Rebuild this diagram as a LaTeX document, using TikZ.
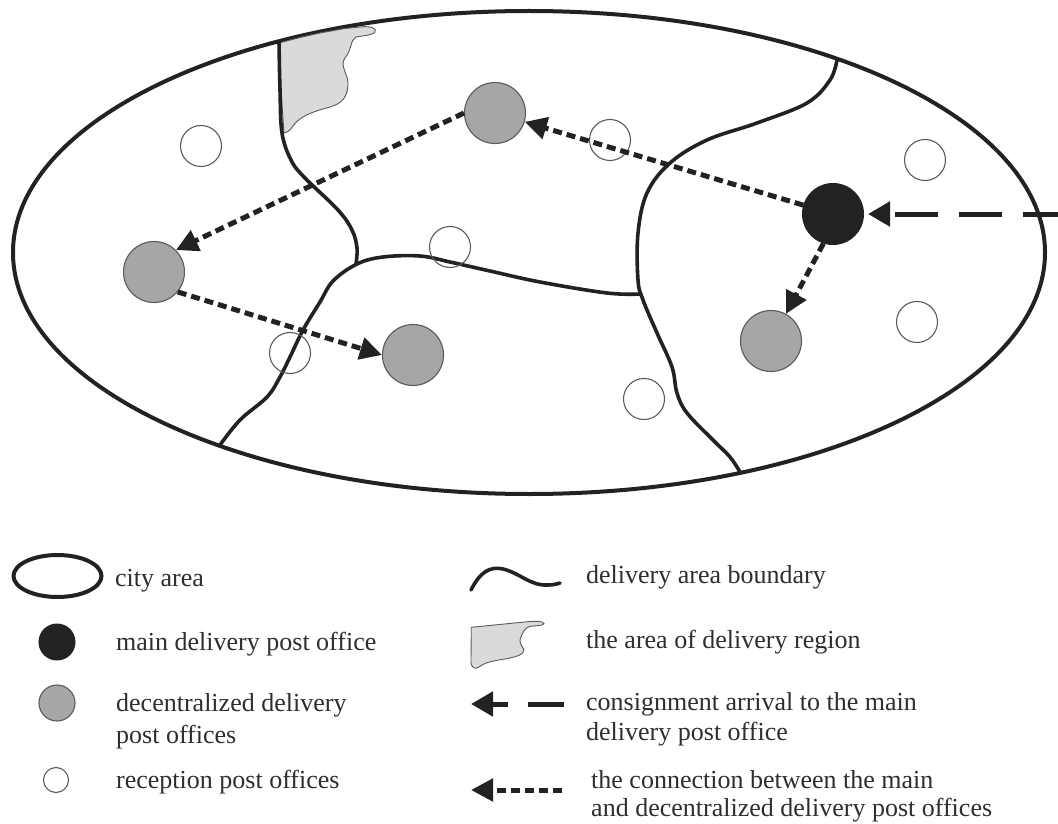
\documentclass[tikz,border=0pt]{standalone}
\usepackage{fontspec}
\setmainfont{Liberation Serif}
\usetikzlibrary{arrows.meta,shapes.geometric}
\definecolor{ink}{HTML}{222222}
\definecolor{txt}{HTML}{2E2E2E}
\definecolor{gfill}{HTML}{A6A6A6}
\definecolor{gline}{HTML}{5A5A5A}
\definecolor{rfill}{HTML}{DADADA}
\begin{document}
\begin{tikzpicture}[x=1pt,y=-1pt,
  cityarea/.style={ellipse, draw=ink, line width=4pt, inner sep=0pt},
  bound/.style={draw=ink, line width=3.6pt, line cap=round, line join=round},
  regionfill/.style={fill=rfill, draw=gline, line width=0.9pt},
  mainpo/.style={circle, fill=ink, draw=ink, line width=1pt, inner sep=0pt},
  decpo/.style={circle, fill=gfill, draw=gline, line width=1.1pt, inner sep=0pt},
  recpo/.style={circle, draw=gline, line width=1.1pt, inner sep=0pt},
  conn/.style={draw=ink, line width=5pt, dash pattern=on 9pt off 5pt, -{Triangle[length=22pt,width=22pt]}},
  arrival/.style={draw=ink, line width=5pt, dash pattern=on 43pt off 21pt, -{Triangle[length=22pt,width=24pt]}},
  lbl/.style={anchor=base west, inner sep=0pt, text=txt, font=\fontsize{26}{31}\selectfont}
]
\useasboundingbox (0,0) rectangle (1058,824);

% city area
\node[cityarea, minimum width=1032pt, minimum height=483pt] (city) at (529,252.5) {};

% area of delivery region (grey patch)
\path[regionfill] (279,43) -- (300,37.5) -- (320,33) -- (345,28.5) -- (360,27)
  .. controls (372,25.5) and (377,29) .. (375,32)
  .. controls (373,35) and (362,36) .. (356,37)
  .. controls (350,40) and (352,50) .. (345,58)
  .. controls (339,66) and (349,75) .. (348,85)
  .. controls (347,97) and (343,103) .. (330,107)
  .. controls (312,112) and (300,116) .. (293,126)
  .. controls (290,131) and (286,133) .. (284,133)
  -- (281,90) -- cycle;

% delivery area boundaries
\draw[bound] plot[smooth, tension=0.6] coordinates {(279,42) (280,90) (282,133) (291,160) (304,177) (338,210) (352,230) (357,248) (356,264)};
\draw[bound] plot[smooth, tension=0.6] coordinates {(220,445) (240,420) (267,397) (280,377) (290,357) (303,330) (320,302) (333,281) (357,264) (383,257) (420,256) (450,262) (490,271) (540,282) (607,293) (641,294)};
\draw[bound] plot[smooth, tension=0.6] coordinates {(837,60) (830,80) (807,103) (757,123) (707,140) (670,163) (647,193) (638,233) (638,280) (643,300) (657,333) (672,367) (677,393) (687,413) (713,440) (730,457) (740,472)};

% reception post offices
\node[recpo, minimum size=41pt] (r1) at (201,146) {};
\node[recpo, minimum size=41pt] (r2) at (610,140) {};
\node[recpo, minimum size=41pt] (r3) at (925,160) {};
\node[recpo, minimum size=41pt] (r4) at (450,247) {};
\node[recpo, minimum size=41pt] (r5) at (290,353) {};
\node[recpo, minimum size=41pt] (r6) at (644,399) {};
\node[recpo, minimum size=41pt] (r7) at (917,322) {};

% decentralized delivery post offices
\node[decpo, minimum size=61pt] (g1) at (495,113) {};
\node[decpo, minimum size=61pt] (g2) at (154,272) {};
\node[decpo, minimum size=61pt] (g3) at (413,355) {};
\node[decpo, minimum size=61pt] (g4) at (771,341) {};

% main delivery post office
\node[mainpo, minimum size=61pt] (main) at (833,214) {};

% connections
\coordinate (inflow) at (1058,214);
\draw[arrival, dash phase=8pt, shorten >=4pt] (inflow) -- (main.east);
\draw[conn] (main) -- (g1);
\draw[conn] (g1.west) -- (g2.45);
\draw[conn] (g2.-40) -- (g3.west);
\draw[conn] (main.252) -- (g4.61);

% ---------------- legend ----------------
\node[cityarea, minimum width=88pt, minimum height=42pt] (lcity) at (57.5,576) {};
\node[lbl] (tcity) at (115,586.7) {city area};

\node[mainpo, minimum size=36pt] (lmain) at (57,642) {};
\node[lbl] (tmain) at (116,650) {main delivery post office};

\node[decpo, minimum size=36pt] (ldec) at (57,703) {};
\node[lbl] (tdec1) at (116,711.7) {decentralized delivery};
\node[lbl] (tdec2) at (116,743.3) {post offices};

\node[recpo, minimum size=25pt] (lrec) at (56,780) {};
\node[lbl] (trec) at (116,788.3) {reception post offices};

\draw[bound] (471,590) .. controls (480,572) and (490,566) .. (503,569)
  .. controls (520,573) and (530,586) .. (548,585)
  .. controls (553,585) and (557,584) .. (560,583);
\node[lbl] (tbound) at (586,583.3) {delivery area boundary};

\path[regionfill] (471.3,627.3) -- (527.5,621.7)
  .. controls (536,621) and (543,621) .. (544,623.5)
  .. controls (544,626) and (534,625.5) .. (529.5,626.5)
  .. controls (525,627.5) and (522,633) .. (520,640)
  .. controls (519,645) and (525,648) .. (523.7,651)
  .. controls (522,655) and (518,656) .. (510,658)
  .. controls (500,660) and (490,661) .. (484,664)
  .. controls (480,666) and (477,669) .. (474,668)
  .. controls (471,667) and (471,664) .. (471,660)
  -- cycle;
\node[lbl] (tregion) at (586,648.3) {the area of delivery region};

\coordinate (la1) at (564,704);
\coordinate (la2) at (471,704);
\draw[draw=ink, line width=5pt, dash pattern=on 36pt off 20pt, -{Triangle[length=22pt,width=24pt]}] (la1) -- (la2);
\node[lbl] (tarr1) at (586,710) {consignment arrival to the main};
\node[lbl] (tarr2) at (586,740) {delivery post office};

\coordinate (lc1) at (562,790);
\coordinate (lc2) at (471,790);
\draw[conn] (lc1) -- (lc2);
\node[lbl] (tcon1) at (591,788) {the connection between the main};
\node[lbl] (tcon2) at (591,816.7) {and decentralized delivery post offices};
\end{tikzpicture}
\end{document}
